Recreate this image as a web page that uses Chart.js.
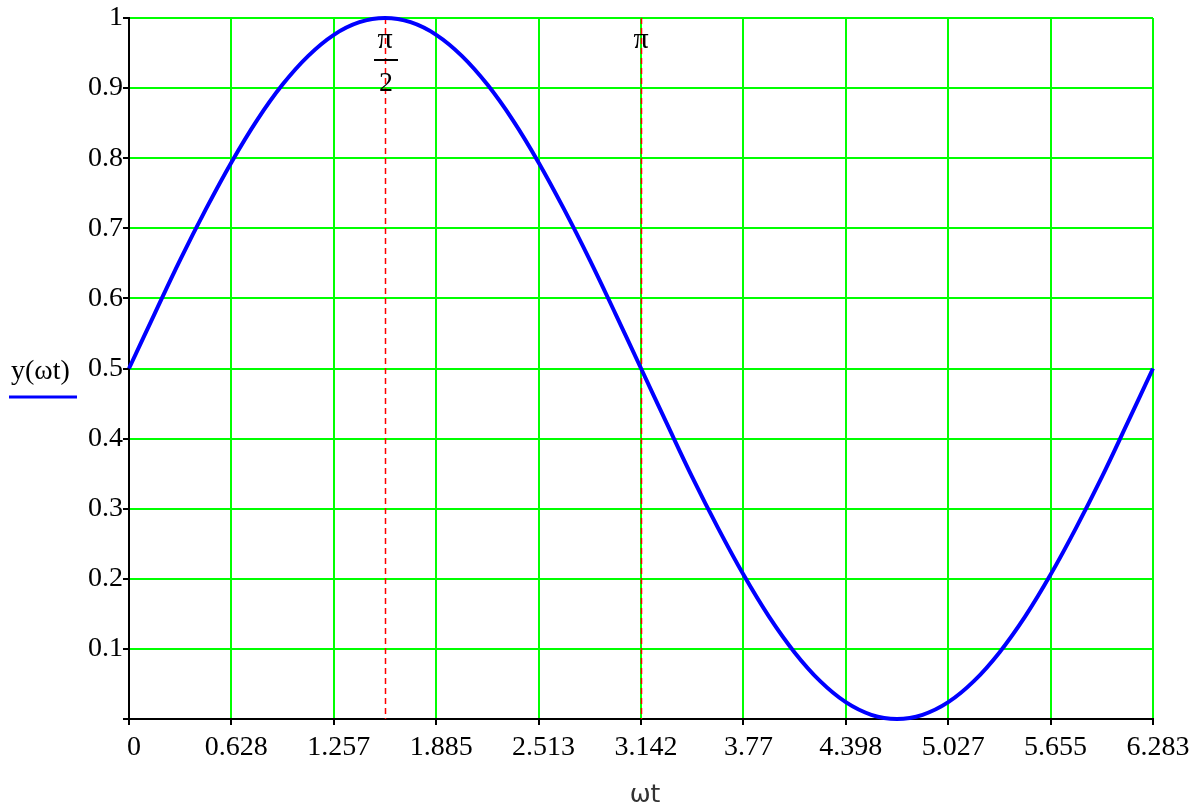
<!DOCTYPE html>
<html>
<head>
<meta charset="utf-8">
<script src="https://cdn.jsdelivr.net/npm/chart.js@4.4.0/dist/chart.umd.min.js"></script>
<style>
html,body{margin:0;padding:0;background:#fff;}
#wrap{width:1201px;height:805px;position:relative;}
</style>
</head>
<body>
<div id="wrap"><canvas id="c" width="1201" height="805"></canvas></div>
<script>
// x positions (ωt) of the sampled curve points
const omegaT = [0, 0.157, 0.314, 0.471, 0.628, 0.785, 0.942, 1.100, 1.257, 1.414, 1.571,
  1.728, 1.885, 2.042, 2.199, 2.356, 2.513, 2.670, 2.827, 2.985, 3.142,
  3.299, 3.456, 3.613, 3.770, 3.927, 4.084, 4.241, 4.398, 4.555, 4.712,
  4.869, 5.027, 5.184, 5.341, 5.498, 5.655, 5.812, 5.969, 6.126, 6.283];
// y(ωt) values
const yValues = [0.500, 0.578, 0.655, 0.727, 0.794, 0.854, 0.905, 0.946, 0.976, 0.994, 1.000,
  0.994, 0.976, 0.946, 0.905, 0.854, 0.794, 0.727, 0.655, 0.578, 0.500,
  0.422, 0.345, 0.273, 0.206, 0.146, 0.095, 0.054, 0.024, 0.006, 0.000,
  0.006, 0.024, 0.054, 0.095, 0.146, 0.206, 0.273, 0.345, 0.422, 0.500];
// x tick values and labels
const xTickValues = [0, 0.628, 1.257, 1.885, 2.513, 3.142, 3.770, 4.398, 5.027, 5.655, 6.283];
const xTickLabels = ['0', '0.628', '1.257', '1.885', '2.513', '3.142', '3.77', '4.398', '5.027', '5.655', '6.283'];
// y tick values
const yTickValues = [0, 0.1, 0.2, 0.3, 0.4, 0.5, 0.6, 0.7, 0.8, 0.9, 1];
// marker lines
const markerX = [1.5708, 3.1416];
const markerLabels = [['π', '2'], ['π']];
const seriesName = 'y(ωt)';
const xAxisTitle = 'ωt';

const GREEN = '#00ff00';
const SERIF = '"Liberation Serif", "Times New Roman", serif';

const overlay = {
  id: 'overlay',
  beforeDatasetsDraw(chart) {
    const ctx = chart.ctx, xs = chart.scales.x, a = chart.chartArea;
    ctx.save();
    ctx.strokeStyle = '#ff0000';
    ctx.lineWidth = 1.5;
    ctx.setLineDash([6, 4]);
    markerX.forEach(v => {
      const px = Math.round(xs.getPixelForValue(v)) + 0.5;
      ctx.beginPath();
      ctx.moveTo(px, a.top);
      ctx.lineTo(px, a.bottom);
      ctx.stroke();
    });
    ctx.restore();
  },
  afterDatasetsDraw(chart) {
    const ctx = chart.ctx, xs = chart.scales.x;
    ctx.save();
    ctx.fillStyle = '#000';
    ctx.textAlign = 'center';
    ctx.textBaseline = 'middle';
    markerX.forEach((v, i) => {
      const px = xs.getPixelForValue(v);
      const lab = markerLabels[i];
      ctx.font = '30px ' + SERIF;
      ctx.fillText(lab[0], px, 40);
      if (lab.length === 2) {
        ctx.fillRect(px - 11, 59, 24, 2);
        ctx.font = '28px ' + SERIF;
        ctx.fillText(lab[1], px + 1, 84);
      }
    });
    // legend-style series label on the left
    ctx.textAlign = 'left';
    ctx.font = '28px ' + SERIF;
    ctx.fillText(seriesName, 11, 372);
    ctx.strokeStyle = '#0000ff';
    ctx.lineWidth = 3;
    ctx.beginPath();
    ctx.moveTo(9, 397);
    ctx.lineTo(77, 397);
    ctx.stroke();
    // x axis title
    ctx.textAlign = 'center';
    ctx.font = '25px "DejaVu Sans", sans-serif';
    ctx.fillStyle = '#333';
    ctx.fillText(xAxisTitle, 645, 795);
    ctx.restore();
  }
};

new Chart(document.getElementById('c'), {
  type: 'line',
  data: {
    datasets: [{
      label: seriesName,
      data: omegaT.map((x, i) => ({x: x, y: yValues[i]})),
      borderColor: '#0000ff',
      borderWidth: 4,
      pointRadius: 0,
      tension: 0.4,
      fill: false
    }]
  },
  options: {
    responsive: false,
    animation: false,
    clip: false,
    layout: {padding: {left: 0, right: 48, top: 18, bottom: 0}},
    plugins: {legend: {display: false}, tooltip: {enabled: false}},
    scales: {
      x: {
        type: 'linear',
        min: 0,
        max: 6.2832,
        afterBuildTicks: s => { s.ticks = xTickValues.map(v => ({value: v})); },
        afterFit: s => { s.height = 805 - 719; },
        ticks: {
          autoSkip: false,
          maxRotation: 0,
          padding: 6,
          labelOffset: 5,
          color: '#000',
          font: {family: SERIF, size: 28},
          callback: (v, i) => xTickLabels[i]
        },
        grid: {color: GREEN, lineWidth: 2, tickColor: '#000', tickLength: 6, drawTicks: true},
        border: {display: true, color: '#000', width: 2}
      },
      y: {
        min: 0,
        max: 1,
        afterBuildTicks: s => { s.ticks = yTickValues.map(v => ({value: v})); },
        afterFit: s => { s.width = 129; },
        ticks: {
          padding: 0,
          color: '#000',
          font: {family: SERIF, size: 28},
          callback: v => (v === 0 ? '' : String(v))
        },
        grid: {color: GREEN, lineWidth: 2, tickColor: '#000', tickLength: 6, drawTicks: true},
        border: {display: true, color: '#000', width: 2}
      }
    }
  },
  plugins: [overlay]
});
</script>
</body>
</html>
